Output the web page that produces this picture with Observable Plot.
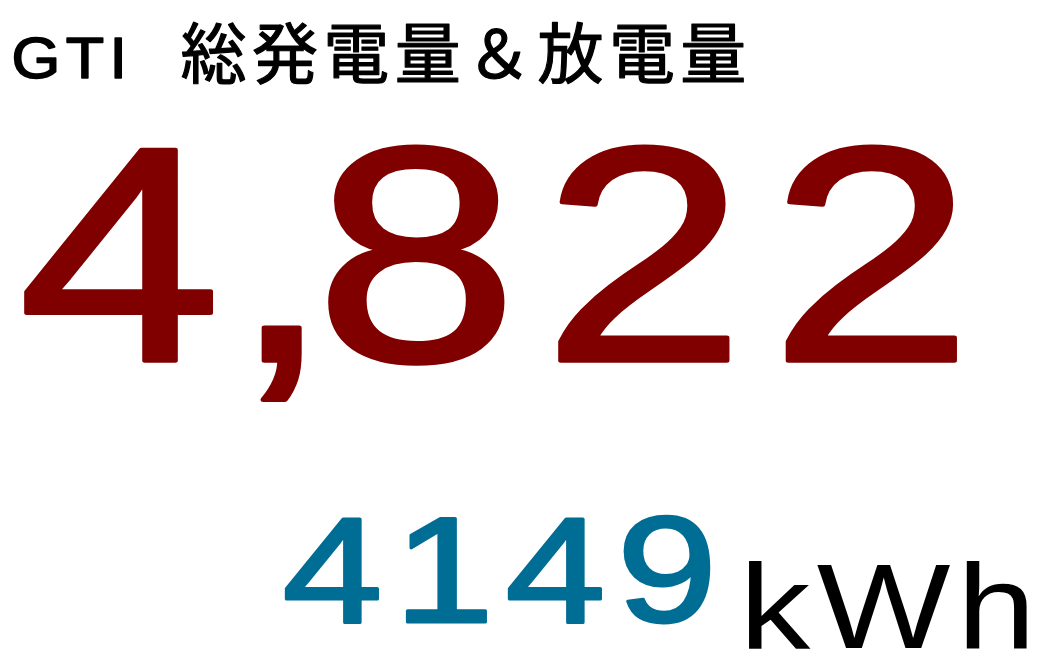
<!DOCTYPE html>
<html>
<head>
<meta charset="utf-8">
<script src="https://cdn.jsdelivr.net/npm/d3@7"></script>
<script src="https://cdn.jsdelivr.net/npm/@observablehq/plot@0.6"></script>
<style>
  html, body { margin: 0; padding: 0; background: #fff; overflow: hidden; }
  #chart svg { display: block; }
</style>
</head>
<body>
<div id="chart"></div>
<script>
// ---- data ----
const titleLatin = ["GTI"];
const titleJapanese = ["総発電量＆放電量"];
const totalValue = [4822];      // 総発電量
const dischargeValue = [4149];  // 放電量
const unitLabel = ["kWh"];

const fmt = d3.format(",");

const latin = "'Liberation Sans', Arial, Helvetica, sans-serif";
const cjk = "'Noto Sans CJK JP', 'Noto Sans CJK SC', sans-serif";

const plot = Plot.plot({
  width: 1043,
  height: 661,
  margin: 0,
  style: {background: "#fff", overflow: "visible"},
  marks: [
    Plot.text(titleLatin, {text: d => d, frameAnchor: "top-left", textAnchor: "start", lineAnchor: "bottom",
      dx: 11, dy: 77, fontSize: 57, fontFamily: latin, fill: "#000", stroke: "#000", strokeWidth: 1.6}),
    Plot.text(titleJapanese, {text: d => d, frameAnchor: "top-left", textAnchor: "start", lineAnchor: "bottom",
      dx: 180, dy: 77, fontSize: 66, fontFamily: cjk, fill: "#000", stroke: "#000", strokeWidth: 1.2}),
    Plot.text(totalValue, {text: d => fmt(d), frameAnchor: "top-left", textAnchor: "start", lineAnchor: "bottom",
      dx: 18, dy: 360, fontSize: 306, fontFamily: latin, fill: "#800000", stroke: "#800000", strokeWidth: 4.5}),
    Plot.text(dischargeValue, {text: d => String(d), frameAnchor: "top-left", textAnchor: "start", lineAnchor: "bottom",
      dx: 282, dy: 621, fontSize: 151, fontFamily: latin, fill: "#006d94", stroke: "#006d94", strokeWidth: 3}),
    Plot.text(unitLabel, {text: d => d, frameAnchor: "top-left", textAnchor: "start", lineAnchor: "bottom",
      dx: 739, dy: 647, fontSize: 120, fontFamily: latin, fill: "#000"})
  ]
});

// typographic styling: horizontal stretch, tracking and kerning
const textStyles = [
  {scale: 1.1, spacing: 5, kern: null},
  {scale: 1.0, spacing: 5.4, kern: null},
  {scale: 1.19, spacing: 21, kern: "0 -13 -35 0 0"},
  {scale: 1.19, spacing: 9.7, kern: null},
  {scale: 1.18, spacing: 5.5, kern: null}
];
const groups = plot.querySelectorAll('g[aria-label="text"]');
groups.forEach((g, i) => {
  const s = textStyles[i];
  if (!s) return;
  g.querySelectorAll("text").forEach(t => {
    const tr = t.getAttribute("transform") || "";
    t.setAttribute("transform", `${tr} scale(${s.scale},1)`);
    t.setAttribute("letter-spacing", s.spacing);
    t.setAttribute("stroke-linejoin", "round");
    if (s.kern) t.setAttribute("dx", s.kern);
  });
});

document.getElementById("chart").appendChild(plot);
</script>
</body>
</html>
